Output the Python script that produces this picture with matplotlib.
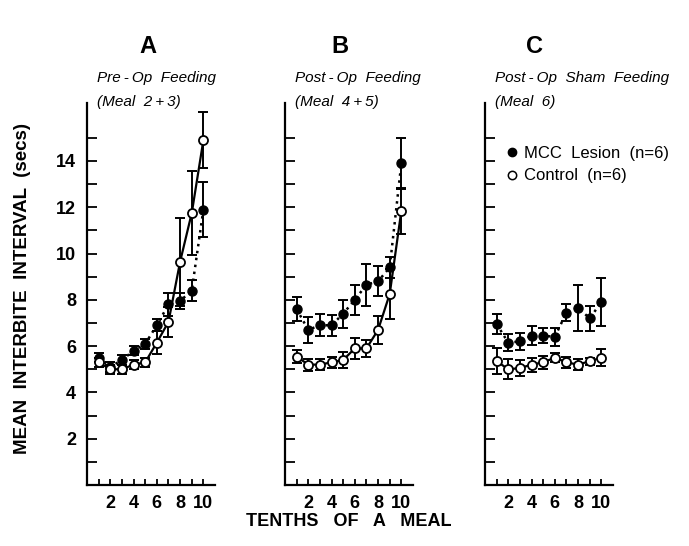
import numpy as np
import matplotlib.pyplot as plt
from matplotlib.lines import Line2D

plt.rcParams['font.family'] = ['Liberation Sans', 'DejaVu Sans']

tenths = np.arange(1, 11)

# A: pre-op feeding (meal 2+3)
a_lesion = [5.5, 5.1, 5.4, 5.8, 6.1, 6.9, 7.8, 7.95, 8.4, 11.9]
a_lesion_se = [0.2, 0.2, 0.2, 0.2, 0.22, 0.26, 0.5, 0.35, 0.45, 1.2]
a_control = [5.3, 5.0, 5.0, 5.2, 5.3, 6.15, 7.05, 9.65, 11.75, 14.9]
a_control_se = [0.2, 0.2, 0.2, 0.2, 0.2, 0.5, 0.65, 1.9, 1.8, 1.2]

# B: post-op feeding (meal 4+5)
b_lesion = [7.6, 6.7, 6.9, 6.9, 7.4, 8.0, 8.65, 8.8, 9.4, 13.9]
b_lesion_se = [0.5, 0.55, 0.48, 0.46, 0.6, 0.65, 0.9, 0.65, 0.45, 1.1]
b_control = [5.55, 5.2, 5.2, 5.3, 5.4, 5.9, 5.9, 6.7, 8.25, 11.85]
b_control_se = [0.28, 0.26, 0.25, 0.25, 0.33, 0.45, 0.35, 0.6, 1.1, 1.0]

# C: post-op sham feeding (meal 6)
c_lesion = [6.95, 6.15, 6.2, 6.45, 6.45, 6.4, 7.45, 7.65, 7.2, 7.9]
c_lesion_se = [0.43, 0.36, 0.36, 0.4, 0.32, 0.39, 0.38, 1.0, 0.55, 1.05]
c_control = [5.35, 5.0, 5.05, 5.2, 5.3, 5.5, 5.3, 5.2, 5.35, 5.5]
c_control_se = [0.55, 0.43, 0.33, 0.3, 0.29, 0.2, 0.25, 0.25, 0.15, 0.36]

letters = ['A', 'B', 'C']
subtitles = [('Pre\u2009-\u2009Op  Feeding', '(Meal  2\u2009+\u20093)'),
             ('Post\u2009-\u2009Op  Feeding', '(Meal  4\u2009+\u20095)'),
             ('Post\u2009-\u2009Op  Sham  Feeding', '(Meal  6)')]
panels = [(a_lesion, a_lesion_se, a_control, a_control_se),
          (b_lesion, b_lesion_se, b_control, b_control_se),
          (c_lesion, c_lesion_se, c_control, c_control_se)]

fig = plt.figure(figsize=(6.89, 5.46), dpi=100)
lefts = [0.1263, 0.4136, 0.7039]
letter_x = [0.215, 0.493, 0.776]

for k in range(3):
    ax = fig.add_axes([lefts[k], 0.1117, 0.1858, 0.6996])
    les, les_se, con, con_se = panels[k]

    ax.errorbar(tenths, les, yerr=les_se, fmt='o', color='black', ms=6.5,
                mfc='black', mec='black', elinewidth=1.4, capsize=3.5,
                capthick=1.4, zorder=3)
    ax.plot(tenths, les, color='black', lw=1.8, ls=(0, (1, 1.8)), zorder=2)
    ax.errorbar(tenths, con, yerr=con_se, fmt='none', ecolor='black',
                elinewidth=1.4, capsize=3.5, capthick=1.4, zorder=3)
    ax.plot(tenths, con, color='black', lw=1.6, zorder=2)
    ax.plot(tenths, con, 'o', ms=6.5, mfc='white', mec='black', mew=1.3,
            zorder=4)

    ax.set_xlim(0, 11)
    ax.set_ylim(0, 16.5)
    for s in ['top', 'right']:
        ax.spines[s].set_visible(False)
    for s in ['left', 'bottom']:
        ax.spines[s].set_linewidth(1.6)

    ax.set_xticks([2, 4, 6, 8, 10])
    ax.set_xticks([1, 3, 5, 7, 9], minor=True)
    ax.set_yticks([2, 4, 6, 8, 10, 12, 14])
    ax.set_yticks([1, 3, 5, 7, 9, 11, 13, 15], minor=True)
    ax.tick_params(axis='x', which='both', direction='in', length=4,
                   width=1.3, labelsize=13, pad=7)
    ax.tick_params(axis='y', which='both', direction='in', length=7,
                   width=1.3, labelsize=13, pad=8)
    for lab in ax.get_xticklabels() + ax.get_yticklabels():
        lab.set_fontweight('bold')
    if k > 0:
        ax.set_yticklabels([])

    fig.text(letter_x[k], 0.915, letters[k], fontsize=17, fontweight='bold',
             ha='center', va='center')
    ax.text(0.08, 1.065, subtitles[k][0], transform=ax.transAxes,
            fontsize=11, style='italic', va='center', ha='left')
    ax.text(0.08, 1.002, subtitles[k][1], transform=ax.transAxes,
            fontsize=11, style='italic', va='center', ha='left')

    if k == 2:
        handles = [Line2D([], [], ls='none', marker='o', ms=6, mfc='black',
                          mec='black'),
                   Line2D([], [], ls='none', marker='o', ms=6, mfc='white',
                          mec='black', mew=1.1)]
        ax.legend(handles, ['MCC  Lesion  (n=6)', 'Control  (n=6)'],
                  loc='upper left', bbox_to_anchor=(0.12, 0.905),
                  frameon=False, fontsize=12, handlelength=0.6,
                  handletextpad=0.4, labelspacing=0.45, borderaxespad=0)

fig.text(0.033, 0.4725, 'MEAN  INTERBITE  INTERVAL  (secs)', rotation=90,
         fontsize=13.5, fontweight='bold', ha='center', va='center')
fig.text(0.5065, 0.044, 'TENTHS   OF   A   MEAL', fontsize=13,
         fontweight='bold', ha='center', va='center')

fig.savefig('out.png', dpi=100)
